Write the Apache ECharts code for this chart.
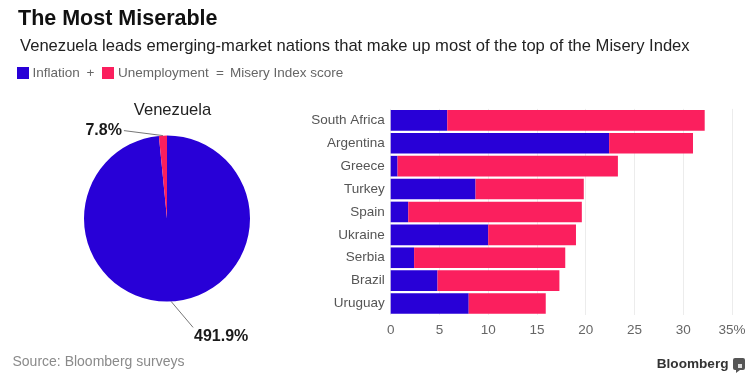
<!DOCTYPE html>
<html><head><meta charset="utf-8">
<script src="https://cdn.jsdelivr.net/npm/echarts@6/dist/echarts.min.js"></script>
<style>html,body{margin:0;padding:0;background:#fff}#c{width:750px;height:378px}</style>
</head><body><div id="c"></div>
<script>
const countries = ['South Africa','Argentina','Greece','Turkey','Spain','Ukraine','Serbia','Brazil','Uruguay'];
const inflation = [5.8, 22.4, 0.7, 8.7, 1.8, 10.0, 2.4, 4.8, 8.0];
const unemployment = [26.4, 8.6, 22.6, 11.1, 17.8, 9.0, 15.5, 12.5, 7.9];
const pieNames = ['Inflation', 'Unemployment'];
const pieValues = [491.9, 7.8];
const pieTitle = 'Venezuela';
const xMin = 0, xMax = 35, xStep = 5;

const BLUE = '#2800d7', PINK = '#fb1f5e';
const FONT = '"Liberation Sans", Arial, sans-serif';
const f = (size, weight) => (weight || 'normal') + ' ' + size + 'px ' + FONT;

const chart = echarts.init(document.getElementById('c'), null, {renderer: 'canvas'});
const option = {
  animation: false,
  backgroundColor: '#fff',
  textStyle: {fontFamily: FONT},
  title: [{
    text: pieTitle, left: 167.5, top: 97, textAlign: 'center',
    textStyle: {fontSize: 16.6, fontWeight: 'normal', color: '#222', fontFamily: FONT}
  }],
  grid: {left: 390.7, right: 18, top: 108.9, height: 206.1, outerBoundsMode: 'none'},
  xAxis: {
    type: 'value', min: xMin, max: xMax, interval: xStep,
    axisLine: {show: false}, axisTick: {show: false},
    splitLine: {lineStyle: {color: '#ececec', width: 1}},
    axisLabel: {fontSize: 13.5, color: '#666', margin: 8, fontFamily: FONT,
      formatter: v => v === xMax ? v + '%' : String(v)}
  },
  yAxis: {
    type: 'category', data: countries, inverse: true,
    axisLine: {show: false}, axisTick: {show: false}, splitLine: {show: false},
    axisLabel: {fontSize: 13.5, color: '#555', margin: 6, fontFamily: FONT}
  },
  series: [
    {type: 'bar', name: 'Inflation', stack: 'm', data: inflation, barCategoryGap: '10%',
      itemStyle: {color: BLUE, borderWidth: 0}},
    {type: 'bar', name: 'Unemployment', stack: 'm', data: unemployment, barCategoryGap: '10%',
      itemStyle: {color: PINK, borderWidth: 0}},
    {type: 'pie', center: [167, 218.5], radius: 83, startAngle: 90, clockwise: true,
      data: pieNames.map((n, i) => ({name: n, value: pieValues[i], itemStyle: {color: i ? PINK : BLUE}})),
      itemStyle: {borderWidth: 0},
      label: {show: true, position: 'outside', formatter: p => p.value + '%',
        fontSize: 16, fontWeight: 'bold', color: '#1a1a1a', fontFamily: FONT},
      labelLine: {show: true, length: 5, length2: 5, lineStyle: {color: '#777', width: 1}},
      labelLayout: function (p) {
        const a = p.labelLinePoints && p.labelLinePoints[0];
        if (!a) return {};
        if (p.dataIndex === 1) {
          const e = [a[0] - 39, a[1] - 5];
          return {x: e[0] - 2, y: e[1], align: 'right', verticalAlign: 'middle', labelLinePoints: [a, e, e]};
        }
        const e = [a[0] + 22, a[1] + 26];
        return {x: e[0] + 1, y: e[1] + 9, align: 'left', verticalAlign: 'middle', labelLinePoints: [a, e, e]};
      }
    }
  ],
  graphic: [
    {type: 'text', x: 18, y: 19.5, style: {text: 'The Most Miserable', font: f(21.5, 'bold'), fill: '#111', textVerticalAlign: 'middle'}},
    {type: 'text', x: 20, y: 46, style: {text: 'Venezuela leads emerging-market nations that make up most of the top of the Misery Index', font: f(16.6), fill: '#222', textVerticalAlign: 'middle'}},
    {type: 'rect', shape: {x: 17, y: 67, width: 12, height: 12}, style: {fill: BLUE}},
    {type: 'text', x: 32.5, y: 73.5, style: {text: 'Inflation', font: f(13.5), fill: '#666', textVerticalAlign: 'middle'}},
    {type: 'text', x: 90.5, y: 73.5, style: {text: '+', font: f(13.5), fill: '#666', textAlign: 'center', textVerticalAlign: 'middle'}},
    {type: 'rect', shape: {x: 102, y: 67, width: 12, height: 12}, style: {fill: PINK}},
    {type: 'text', x: 118, y: 73.5, style: {text: 'Unemployment', font: f(13.5), fill: '#666', textVerticalAlign: 'middle'}},
    {type: 'text', x: 220, y: 73.5, style: {text: '=', font: f(13.5), fill: '#666', textAlign: 'center', textVerticalAlign: 'middle'}},
    {type: 'text', x: 230, y: 73.5, style: {text: 'Misery Index score', font: f(13.5), fill: '#666', textVerticalAlign: 'middle'}},
    {type: 'text', x: 12.5, y: 362, style: {text: 'Source: Bloomberg surveys', font: f(14), fill: '#8a8a8a', textVerticalAlign: 'middle'}},
    {type: 'text', x: 728.5, y: 364, style: {text: 'Bloomberg', font: f(13.6, 'bold'), fill: '#333', textAlign: 'right', textVerticalAlign: 'middle'}},
    {type: 'rect', shape: {x: 733, y: 358, width: 12, height: 12, r: 2}, style: {fill: '#555'}},
    {type: 'rect', shape: {x: 738, y: 364, width: 4, height: 4}, style: {fill: '#ddd'}},
    {type: 'polygon', shape: {points: [[736, 370], [740, 370], [736, 373]]}, style: {fill: '#555'}}
  ]
};
chart.setOption(option);
</script>
</body></html>
